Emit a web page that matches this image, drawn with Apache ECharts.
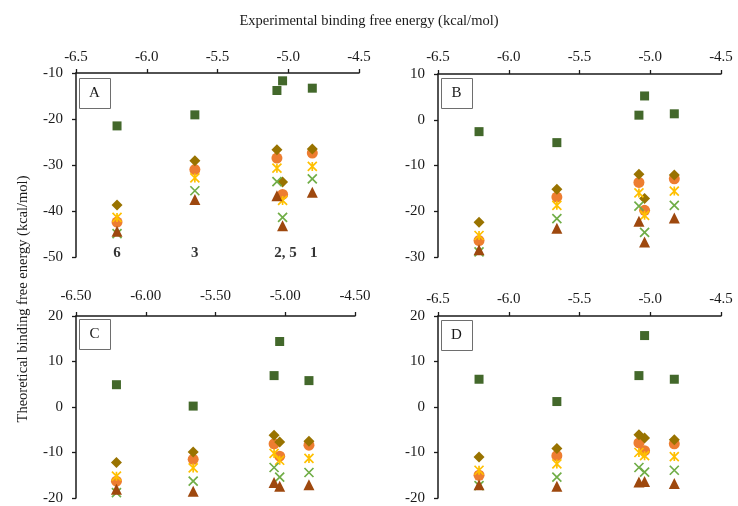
<!DOCTYPE html>
<html><head><meta charset="utf-8">
<script src="https://cdn.jsdelivr.net/npm/echarts@6/dist/echarts.min.js"></script>
<style>html,body{margin:0;padding:0;background:#fff}#c{width:738px;height:506px}</style>
</head><body><div id="c"></div>
<script>
// Experimental binding free energy of compounds 6, 3, 2, 5, 1
const expX = [-6.21, -5.66, -5.08, -5.04, -4.83];
const compoundLabels = ['6', '3', '2, 5', '1'];
const compoundLabelX = [-6.21, -5.66, -5.02, -4.82];

// Panel A
const A_square = [-21.5, -19.1, -13.8, -11.7, -13.3];
const A_diamond = [-38.7, -29.1, -26.7, -33.7, -26.5];
const A_circle = [-42.4, -31.0, -28.5, -36.4, -27.4];
const A_star = [-41.4, -32.8, -30.7, -37.7, -30.3];
const A_cross = [-44.9, -35.6, -33.6, -41.4, -33.0];
const A_triangle = [-44.4, -37.5, -36.7, -43.2, -35.9];
// Panel B
const B_square = [-2.6, -5.0, 1.0, 5.2, 1.3];
const B_diamond = [-22.4, -15.2, -11.9, -17.2, -12.1];
const B_circle = [-26.4, -16.9, -13.7, -19.8, -12.9];
const B_star = [-25.3, -18.7, -16.0, -20.9, -15.6];
const B_cross = [-28.9, -21.6, -18.9, -24.6, -18.7];
const B_triangle = [-28.4, -23.7, -22.2, -26.7, -21.5];
// Panel C
const C_square = [4.9, 0.2, 6.9, 14.4, 5.8];
const C_diamond = [-12.2, -9.9, -6.2, -7.7, -7.5];
const C_circle = [-16.3, -11.5, -8.1, -10.8, -8.4];
const C_star = [-15.2, -13.4, -10.2, -11.7, -11.3];
const C_cross = [-18.8, -16.3, -13.3, -15.4, -14.4];
const C_triangle = [-18.1, -18.5, -16.6, -17.4, -17.1];
// Panel D
const D_square = [6.1, 1.2, 6.9, 15.7, 6.1];
const D_diamond = [-11.0, -9.1, -6.1, -6.8, -7.2];
const D_circle = [-15.0, -10.7, -7.9, -9.6, -8.1];
const D_star = [-13.9, -12.5, -10.0, -10.7, -10.9];
const D_cross = [-17.3, -15.4, -13.3, -14.3, -13.9];
const D_triangle = [-17.1, -17.4, -16.5, -16.4, -16.8];

// Axis ranges
const xMin = -6.5, xMax = -4.5, xStep = 0.5;
const yRanges = {A: [-50, -10], B: [-30, 10], C: [-20, 20], D: [-20, 20]};
const panelNames = ['A', 'B', 'C', 'D'];
const panelData = {
  A: [A_circle, A_diamond, A_star, A_cross, A_triangle, A_square],
  B: [B_circle, B_diamond, B_star, B_cross, B_triangle, B_square],
  C: [C_circle, C_diamond, C_star, C_cross, C_triangle, C_square],
  D: [D_circle, D_diamond, D_star, D_cross, D_triangle, D_square]
};

const FONT = '"Liberation Serif","Times New Roman",serif';
const styles = [
  {symbol: 'circle', size: 11, item: {color: '#ED7D31', opacity: 1}},
  {symbol: 'diamond', size: 11, item: {color: '#997300', opacity: 1}},
  {symbol: 'path://M0,0L10,10M10,0L0,10M5,0L5,10', size: 9, item: {color: 'rgba(0,0,0,0)', borderColor: '#FFC000', borderWidth: 1.7, opacity: 1}},
  {symbol: 'path://M0,0L10,10M10,0L0,10', size: 9, item: {color: 'rgba(0,0,0,0)', borderColor: '#70AD47', borderWidth: 1.7, opacity: 1}},
  {symbol: 'triangle', size: 11, item: {color: '#9E480E', opacity: 1}},
  {symbol: 'rect', size: 9, item: {color: '#43682B', opacity: 1}}
];

const grids = [
  {left: 76, top: 73, width: 283, height: 184},
  {left: 438, top: 74, width: 283, height: 183},
  {left: 76, top: 316, width: 279, height: 182},
  {left: 438, top: 316, width: 283, height: 182}
];
const xDecimals = [1, 1, 2, 1];
const xMargins = [8, 9, 12, 9];

const axisLine = {show: true, onZero: false, lineStyle: {color: '#1a1a1a', width: 1.5}};
const axisTick = {show: true, inside: false, length: 4, lineStyle: {color: '#1a1a1a', width: 1.3}};

const xAxis = [], yAxis = [], series = [];
panelNames.forEach((p, i) => {
  xAxis.push({
    type: 'value', gridIndex: i, position: 'top', min: xMin, max: xMax, interval: xStep,
    axisLine, axisTick, splitLine: {show: false},
    axisLabel: {margin: xMargins[i], color: '#1a1a1a', fontFamily: FONT, fontSize: 15,
      formatter: v => v.toFixed(xDecimals[i])}
  });
  yAxis.push({
    type: 'value', gridIndex: i, min: yRanges[p][0], max: yRanges[p][1], interval: 10,
    axisLine, axisTick, splitLine: {show: false},
    axisLabel: {margin: 13, color: '#1a1a1a', fontFamily: FONT, fontSize: 15}
  });
  panelData[p].forEach((vals, k) => {
    series.push({
      type: 'scatter', xAxisIndex: i, yAxisIndex: i, symbol: styles[k].symbol,
      symbolSize: styles[k].size, itemStyle: styles[k].item, z: 2 + k,
      data: vals.map((v, j) => [expX[j], v]), animation: false, silent: true
    });
  });
});
// compound labels in panel A
series.push({
  type: 'scatter', xAxisIndex: 0, yAxisIndex: 0, symbolSize: 0, animation: false, silent: true,
  data: compoundLabelX.map((x, j) => [x, -49.2, compoundLabels[j]]),
  label: {show: true, position: 'inside', formatter: d => d.data[2], fontFamily: FONT,
    fontSize: 15, fontWeight: 'bold', color: '#000'}
});

const boxes = [[79, 78], [441, 78], [79, 319], [441, 320]];
const graphic = [];
boxes.forEach((b, i) => {
  graphic.push({type: 'rect', left: b[0], top: b[1], shape: {width: 31, height: 30},
    style: {fill: '#fff', stroke: '#6e6e6e', lineWidth: 1}, z: 10});
  graphic.push({type: 'text', x: b[0] + 15.5, y: b[1] + 15.5, z: 11,
    style: {text: panelNames[i], font: '15px ' + FONT, fill: '#1a1a1a', align: 'center', verticalAlign: 'middle'}});
});
graphic.push({type: 'text', x: 369, y: 21,
  style: {text: 'Experimental binding free energy (kcal/mol)', font: '14.5px ' + FONT, fill: '#1a1a1a',
    align: 'center', verticalAlign: 'middle'}});
graphic.push({type: 'text', x: 23, y: 299, rotation: Math.PI / 2,
  style: {text: 'Theoretical binding free energy (kcal/mol)', font: '14.5px ' + FONT, fill: '#1a1a1a',
    align: 'center', verticalAlign: 'middle'}});

const chart = echarts.init(document.getElementById('c'), null, {renderer: 'canvas'});
chart.setOption({animation: false, grid: grids, xAxis, yAxis, series, graphic});
</script></body></html>
